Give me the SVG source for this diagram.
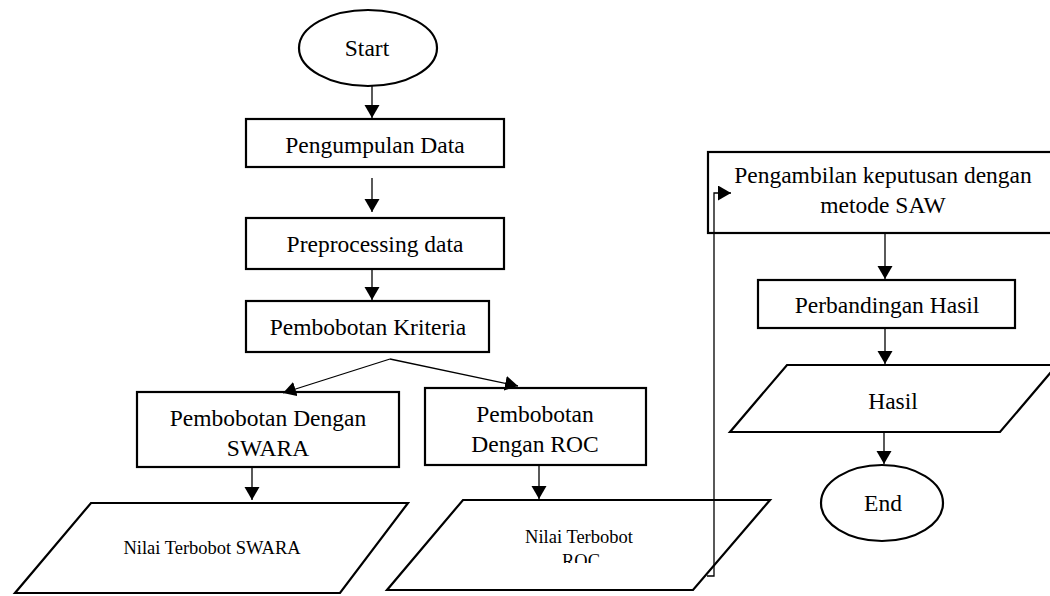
<svg xmlns="http://www.w3.org/2000/svg" width="1050" height="596" viewBox="0 0 1050 596">
<style>
.shape{fill:#fff;stroke:#000;stroke-width:2.2}
.conn{fill:none;stroke:#000;stroke-width:1.3}
.t{font-family:"Liberation Serif","Times New Roman",serif;font-size:23.5px;fill:#000;text-anchor:middle}
.s{font-family:"Liberation Serif","Times New Roman",serif;font-size:18.5px;fill:#000;text-anchor:middle}
</style>
<defs>
<marker id="ah" markerUnits="userSpaceOnUse" markerWidth="14" markerHeight="16" refX="13" refY="7.5" orient="auto">
<path d="M0,0 L13,7.5 L0,15 Z" fill="#000"/>
</marker>
<clipPath id="rocclip"><rect x="380" y="500" width="400" height="63"/></clipPath>
</defs>
<rect width="1050" height="596" fill="#fff"/>
<g id="start">
<ellipse class="shape" cx="368" cy="48" rx="69" ry="38"/>
<text class="t" x="367" y="56">Start</text>
</g>
<g id="pengumpulan">
<rect class="shape" x="246" y="119" width="258" height="48"/>
<text class="t" x="375" y="153">Pengumpulan Data</text>
</g>
<g id="preprocessing">
<rect class="shape" x="246" y="218" width="258" height="51"/>
<text class="t" x="375" y="252">Preprocessing data</text>
</g>
<g id="kriteria">
<rect class="shape" x="246" y="301" width="243" height="51"/>
<text class="t" x="368" y="335">Pembobotan Kriteria</text>
</g>
<g id="swara">
<rect class="shape" x="137" y="392" width="262" height="75"/>
<text class="t" x="268" y="426">Pembobotan Dengan</text>
<text class="t" x="268" y="456">SWARA</text>
</g>
<g id="roc">
<rect class="shape" x="425" y="388" width="221" height="77"/>
<text class="t" x="535" y="422">Pembobotan</text>
<text class="t" x="535" y="452">Dengan ROC</text>
</g>
<g id="nilai-swara">
<polygon class="shape" points="91,503 408,503 340,593 15,593"/>
<text class="s" x="212" y="554">Nilai Terbobot SWARA</text>
</g>
<g id="nilai-roc">
<polygon class="shape" points="463,500 770,500 693,590 387,590"/>
<text class="s" x="579" y="543">Nilai Terbobot</text>
<text class="s" x="581" y="567" clip-path="url(#rocclip)">ROC</text>
</g>
<g id="saw">
<rect class="shape" x="708" y="152" width="360" height="81"/>
<text class="t" x="883" y="183">Pengambilan keputusan dengan</text>
<text class="t" x="883" y="213">metode SAW</text>
</g>
<g id="perbandingan">
<rect class="shape" x="758" y="280" width="257" height="48"/>
<text class="t" x="887" y="313">Perbandingan Hasil</text>
</g>
<g id="hasil">
<polygon class="shape" points="787,365 1057,365 1000,432 730,432"/>
<text class="t" x="893" y="409">Hasil</text>
</g>
<g id="end">
<ellipse class="shape" cx="882" cy="503" rx="61" ry="38"/>
<text class="t" x="883" y="511">End</text>
</g>
<g id="connectors">
<line class="conn" x1="372" y1="86" x2="372" y2="118" marker-end="url(#ah)"/>
<line class="conn" x1="372" y1="178" x2="372" y2="212" marker-end="url(#ah)"/>
<line class="conn" x1="372" y1="269" x2="372" y2="300" marker-end="url(#ah)"/>
<line class="conn" x1="390" y1="359" x2="283" y2="393" marker-end="url(#ah)"/>
<line class="conn" x1="390" y1="359" x2="518" y2="386" marker-end="url(#ah)"/>
<line class="conn" x1="252" y1="467" x2="252" y2="500" marker-end="url(#ah)"/>
<line class="conn" x1="539" y1="465" x2="539" y2="499" marker-end="url(#ah)"/>
<polyline class="conn" points="707,576 714,576 714,193 731,193" marker-end="url(#ah)"/>
<line class="conn" x1="885" y1="233" x2="885" y2="279" marker-end="url(#ah)"/>
<line class="conn" x1="885" y1="328" x2="885" y2="364" marker-end="url(#ah)"/>
<line class="conn" x1="884" y1="432" x2="884" y2="464" marker-end="url(#ah)"/>
</g>
</svg>
